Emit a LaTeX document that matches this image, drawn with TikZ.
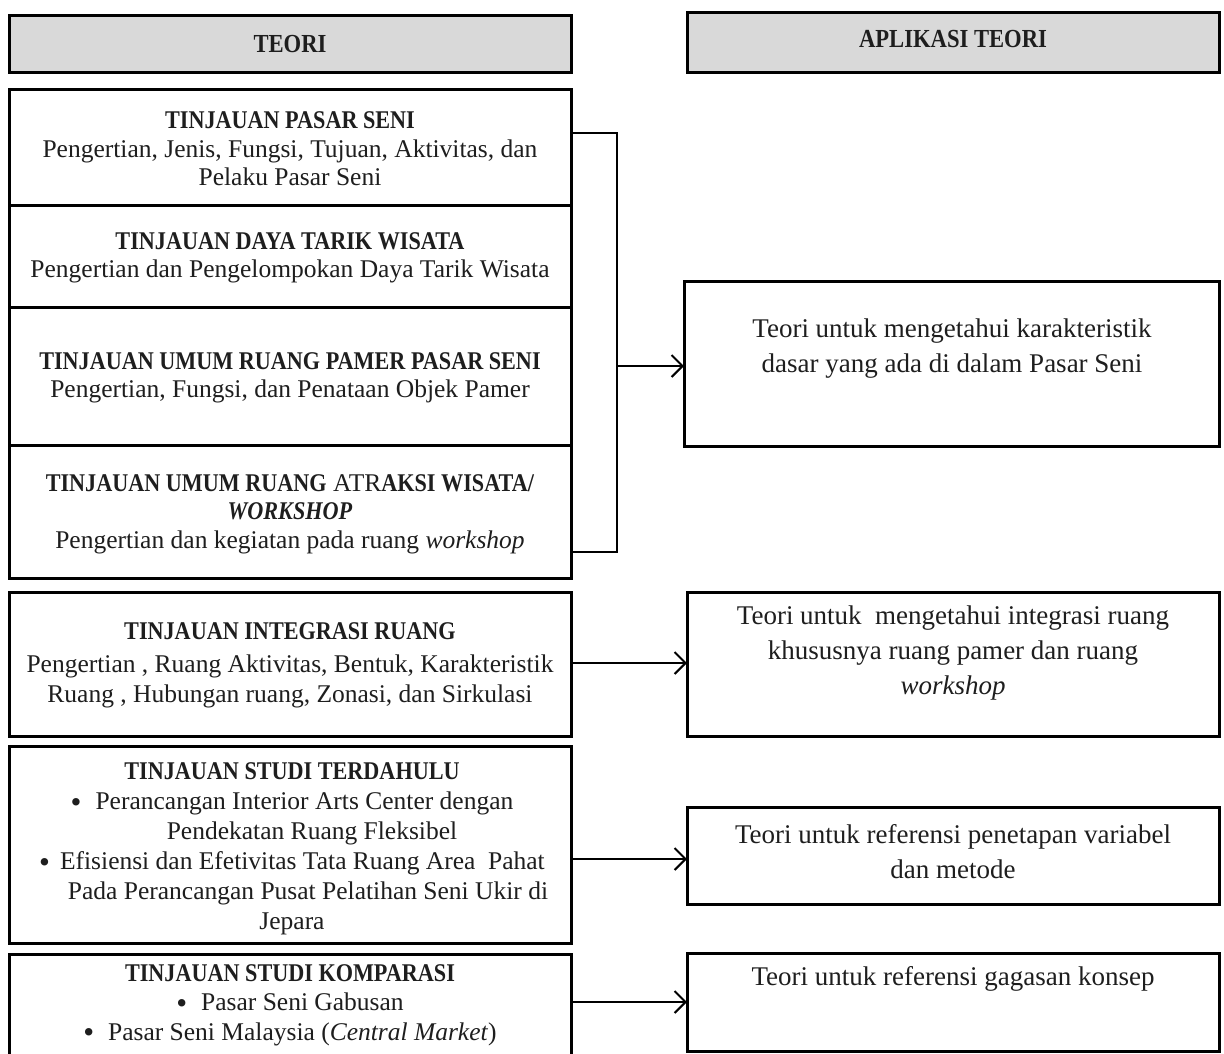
\documentclass[tikz,border=0pt]{standalone}
\usepackage{fontspec}
\setmainfont{Liberation Serif}[BoldFeatures={FakeStretch=0.87},BoldItalicFeatures={FakeStretch=0.87}]
\usetikzlibrary{arrows.meta}
\definecolor{hdrgray}{RGB}{217,217,217}
\definecolor{ink}{RGB}{30,30,30}
\newcommand{\bul}{\raisebox{-2.5pt}{\fontsize{31}{0}\selectfont\textbullet}}
\begin{document}
\begin{tikzpicture}[x=1pt,y=-1pt,
  box/.style={draw=black, line width=3pt, inner sep=0pt, outer sep=0pt, anchor=north west},
  hdr/.style={box, fill=hdrgray},
  ltxt/.style={align=center, text=ink, font=\fontsize{25.5}{28.5}\selectfont, inner sep=0pt},
  rtxt/.style={align=center, text=ink, font=\fontsize{27}{35}\selectfont, inner sep=0pt},
  htxt/.style={text=ink, font=\fontsize{26}{28}\selectfont\bfseries, inner sep=0pt},
  conn/.style={line width=2pt, draw=black},
  shad/.style={line width=2.5pt, draw=black!18, shift={(2pt,-2.5pt)}},
  arr/.style={conn, -{Straight Barb[length=11pt,width=22pt,line width=2pt]}},
]
\clip (0,0) rectangle (1224,1053);
\fill[white] (0,0) rectangle (1224,1053);

% headers
\node[hdr, minimum width=562pt, minimum height=57pt] (h1) at (9,15) {};
\node[htxt] (h1t) at (290,44) {TEORI};
\node[hdr, minimum width=532pt, minimum height=60pt] (h2) at (687,12) {};
\node[htxt] (h2t) at (953,39) {APLIKASI TEORI};

% left stacked group
\node[box, minimum width=562pt, minimum height=116pt] (s1) at (9,89) {};
\node[box, minimum width=562pt, minimum height=102pt] (s2) at (9,205) {};
\node[box, minimum width=562pt, minimum height=138pt] (s3) at (9,307) {};
\node[box, minimum width=562pt, minimum height=133pt] (s4) at (9,445) {};

\node[ltxt] (t1) at (290,149) {\textbf{TINJAUAN PASAR SENI}\\Pengertian, Jenis, Fungsi, Tujuan, Aktivitas, dan\\Pelaku Pasar Seni};
\node[ltxt] (t2) at (290,258) {\textbf{TINJAUAN DAYA TARIK WISATA}\\Pengertian dan Pengelompokan Daya Tarik Wisata};
\node[ltxt] (t3) at (290,378) {\textbf{TINJAUAN UMUM RUANG PAMER PASAR SENI}\\Pengertian, Fungsi, dan Penataan Objek Pamer};
\node[ltxt] (t4) at (290,514) {\textbf{TINJAUAN UMUM RUANG} ATR\textbf{AKSI WISATA/}\\\textbf{\textit{WORKSHOP}}\\Pengertian dan kegiatan pada ruang \textit{workshop}};

% other left boxes
\node[box, minimum width=562pt, minimum height=144pt] (s5) at (9,592) {};
\node[ltxt, font=\fontsize{25.5}{30}\selectfont] (t5) at (290,665) {\textbf{TINJAUAN INTEGRASI RUANG}\\[3pt]Pengertian , Ruang Aktivitas, Bentuk, Karakteristik\\Ruang , Hubungan ruang, Zonasi, dan Sirkulasi};

\node[box, minimum width=562pt, minimum height=197pt] (s6) at (9,746) {};
\node[ltxt, font=\fontsize{25.5}{30}\selectfont] (t6) at (292,849) {\textbf{TINJAUAN STUDI TERDAHULU}\\
\bul\hspace{14pt}Perancangan Interior Arts Center dengan\\
\hspace*{40pt}Pendekatan Ruang Fleksibel\\
\bul\hspace{10pt}Efisiensi dan Efetivitas Tata Ruang Area\ \ Pahat\\
\hspace*{32pt}Pada Perancangan Pusat Pelatihan Seni Ukir di\\
Jepara};

\node[box, minimum width=562pt, minimum height=130pt] (s7) at (9,954) {};
\node[ltxt, font=\fontsize{25.5}{29.5}\selectfont, anchor=north] (t7) at (290,964) {\textbf{TINJAUAN STUDI KOMPARASI}\\
\bul\hspace{14pt}Pasar Seni Gabusan\\
\bul\hspace{14pt}Pasar Seni Malaysia (\textit{Central Market})};

% right boxes
\node[box, minimum width=535pt, minimum height=165pt] (r1) at (684,281) {};
\node[rtxt] (u1) at (952,349) {Teori untuk mengetahui karakteristik\\dasar yang ada di dalam Pasar Seni};
\node[box, minimum width=532pt, minimum height=144pt] (r2) at (687,592) {};
\node[rtxt] (u2) at (953,653) {Teori untuk\ \ mengetahui integrasi ruang\\khususnya ruang pamer dan ruang\\\textit{workshop}};
\node[box, minimum width=532pt, minimum height=97pt] (r3) at (687,807) {};
\node[rtxt] (u3) at (953,852) {Teori untuk referensi penetapan variabel\\dan metode};
\node[box, minimum width=532pt, minimum height=98pt] (r4) at (687,953) {};
\node[rtxt] (u4) at (953,979) {Teori untuk referensi gagasan konsep};

% bracket
\coordinate (ba) at (617,133);
\coordinate (bb) at (617,552);
\coordinate (bm) at (617,366);
\draw[shad] (s1.east |- ba) -- (ba) -- (bb) -- (s4.east |- bb);
\draw[conn, line join=miter] (s1.east |- ba) -- (ba) -- (bb) -- (s4.east |- bb);
\draw[arr] (bm) -- (r1.west |- bm);

% arrows
\coordinate (a5) at (0,663);
\coordinate (a6) at (0,859);
\coordinate (a7) at (0,1002);
\draw[arr] (s5.east |- a5) -- (r2.west |- a5);
\draw[arr] (s6.east |- a6) -- (r3.west |- a6);
\draw[arr] (s7.east |- a7) -- (r4.west |- a7);
\end{tikzpicture}
\end{document}
